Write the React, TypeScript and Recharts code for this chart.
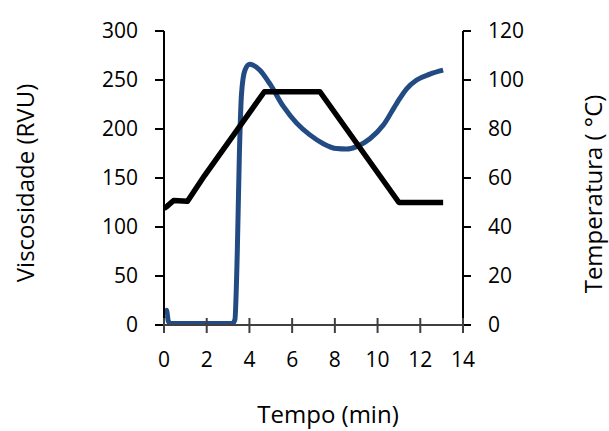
import React from 'react';
import { LineChart, Line, XAxis, YAxis } from 'recharts';

// Viscosity (RVU) curve
const viscTime = [0, 0.12, 0.2, 0.3, 1.0, 2.0, 3.2, 3.32, 3.43, 3.53, 3.63, 3.79, 4.02, 4.18, 4.49, 4.96, 5.59, 6.21, 6.83, 7.46, 8.08, 8.55, 9.02, 9.64, 10.27, 10.89, 11.36, 11.83, 12.45, 13.07];
const viscValues = [10, 15, 4, 1.5, 1.5, 1.5, 1.5, 5.4, 73, 175, 236, 260, 266, 265, 260, 246, 223, 206, 194, 185, 180, 179.5, 182, 190, 204, 226, 241, 250, 256, 260];

// Temperature profile (°C)
const tempTime = [0, 0.15, 0.45, 1.1, 1.9, 4.7, 7.3, 11.0, 13.07];
const tempValues = [47.6, 48.5, 50.8, 50.5, 61, 95.2, 95.2, 50, 50];

const xTicks = [0, 2, 4, 6, 8, 10, 12, 14];
const viscTicks = [0, 50, 100, 150, 200, 250, 300];
const tempTicks = [0, 20, 40, 60, 80, 100, 120];

const viscData = viscTime.map((t, i) => ({ t, v: viscValues[i] }));
const tempData = tempTime.map((t, i) => ({ t, temp: tempValues[i] }));

const FONT = '"Open Sans", sans-serif';
const FS = 21;
const TITLE_FS = 24;

const X_TICK_SIZE = 8;
const X_TICK_MARGIN = 19;

const XTick = (props: any) => {
  const { x, y, payload } = props;
  const axisY = y - X_TICK_SIZE - X_TICK_MARGIN;
  return (
    <g>
      <line x1={x} x2={x} y1={axisY - 7} y2={axisY + 8} stroke="#404040" strokeWidth={2} />
      <text x={x} y={y} dy="0.71em" textAnchor="middle" fontSize={FS} fontFamily={FONT} fill="#000">
        {payload.value}
      </text>
    </g>
  );
};

export default function App() {
  return (
    <div style={{ position: 'absolute', left: 0, top: 0, background: '#fff' }}>
      <LineChart
        width={609}
        height={431}
        margin={{ top: 31, right: 86, bottom: 76, left: 104 }}
      >
        <XAxis
          dataKey="t"
          type="number"
          domain={[0, 14]}
          ticks={xTicks}
          allowDataOverflow
          tickLine={false}
          tickSize={X_TICK_SIZE}
          tickMargin={X_TICK_MARGIN}
          height={30}
          stroke="#404040"
          strokeWidth={2}
          tick={<XTick />}
          label={{
            content: () => (
              <text x={328} y={423} textAnchor="middle" fontSize={TITLE_FS} fontFamily={FONT} fill="#000">
                Tempo (min)
              </text>
            ),
          }}
        />
        <YAxis
          yAxisId="v"
          domain={[0, 300]}
          ticks={viscTicks}
          width={60}
          tickSize={9}
          tickMargin={17}
          stroke="#000"
          strokeWidth={2}
          tick={{ fontSize: FS, fontFamily: FONT, fill: '#000' }}
          label={{
            content: () => (
              <text
                x={24}
                y={183}
                transform="rotate(-90 24 183)"
                textAnchor="middle"
                dominantBaseline="central"
                fontSize={TITLE_FS}
                fontFamily={FONT}
                fill="#000"
              >
                Viscosidade (RVU)
              </text>
            ),
          }}
        />
        <YAxis
          yAxisId="temp"
          orientation="right"
          domain={[0, 120]}
          ticks={tempTicks}
          width={60}
          tickSize={8}
          tickMargin={17}
          stroke="#000"
          strokeWidth={2}
          tick={{ fontSize: FS, fontFamily: FONT, fill: '#000' }}
          label={{
            content: () => (
              <text
                x={592}
                y={194}
                transform="rotate(-90 592 194)"
                textAnchor="middle"
                dominantBaseline="central"
                fontSize={TITLE_FS}
                fontFamily={FONT}
                fill="#000"
              >
                Temperatura ( °C)
              </text>
            ),
          }}
        />
        <Line
          yAxisId="v"
          data={viscData}
          dataKey="v"
          type="monotone"
          stroke="#234B83"
          strokeWidth={5}
          dot={false}
          isAnimationActive={false}
        />
        <Line
          yAxisId="temp"
          data={tempData}
          dataKey="temp"
          type="linear"
          stroke="#000"
          strokeWidth={5.5}
          strokeLinejoin="round"
          dot={false}
          isAnimationActive={false}
        />
      </LineChart>
    </div>
  );
}
